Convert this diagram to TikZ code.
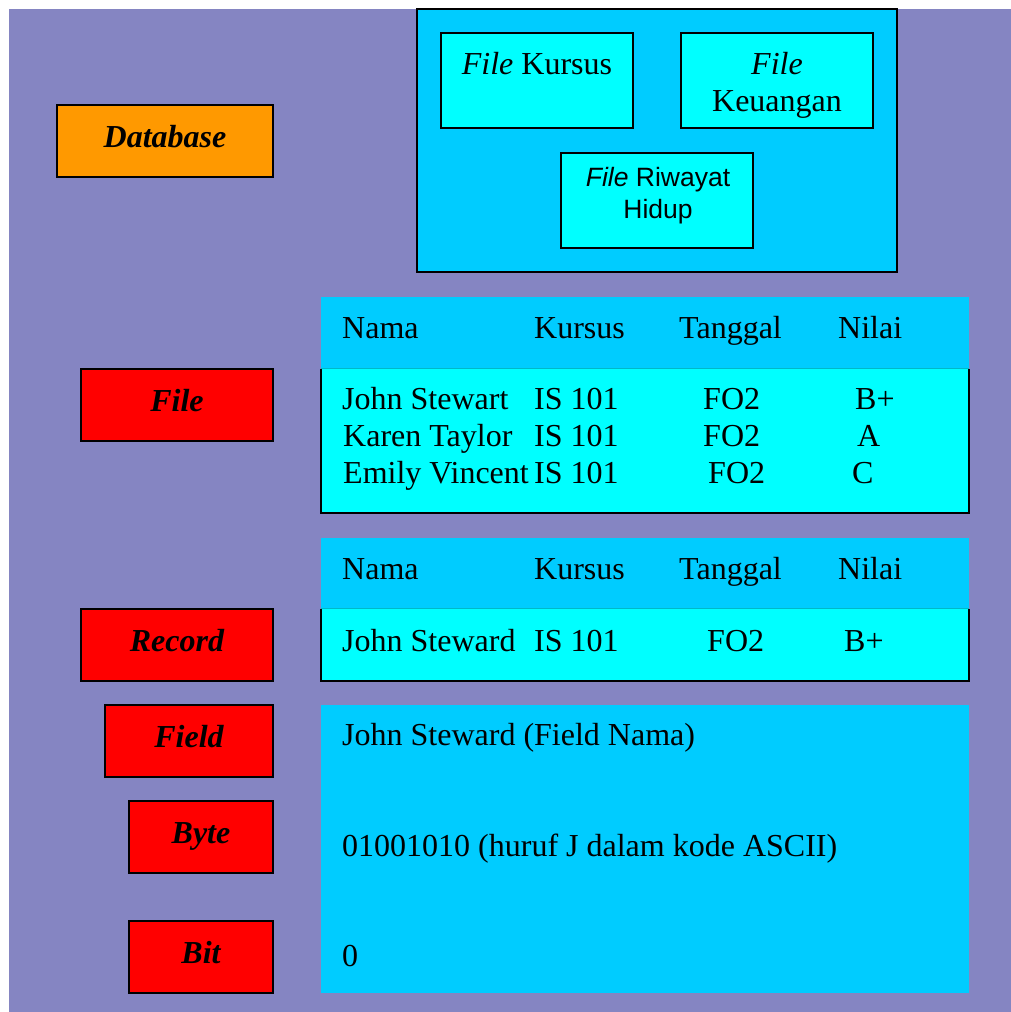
\documentclass[tikz,border=0pt]{standalone}
\usepackage{fontspec}
\setmainfont{Liberation Serif}
\setsansfont{Liberation Sans}
\definecolor{bgpurple}{RGB}{133,133,194}
\definecolor{deepsky}{RGB}{0,204,255}
\definecolor{aqua}{RGB}{0,255,255}
\definecolor{amber}{RGB}{255,153,0}
\definecolor{rulecyan}{RGB}{0,185,200}
\begin{document}
\begin{tikzpicture}[x=1pt,y=-1pt,
  txt/.style={inner sep=0pt, anchor=base west, font=\fontsize{32}{37}\selectfont},
  ctxt/.style={inner sep=0pt, anchor=base, font=\fontsize{32}{37}\selectfont},
  stxt/.style={inner sep=0pt, anchor=base, font=\sffamily\fontsize{26.5}{32}\selectfont},
  lbl/.style={inner sep=0pt, anchor=base, font=\fontsize{32}{37}\selectfont\bfseries\itshape},
  levelbox/.style={draw=black, line width=1.5pt, inner sep=0pt, minimum width=#1},
  redbox/.style={levelbox=#1, fill=red, minimum height=72pt},
  filebox/.style={draw=black, line width=1.5pt, fill=aqua, inner sep=0pt,
    minimum width=192pt, minimum height=95pt},
  head/.style={fill=deepsky, inner sep=0pt, minimum width=648pt}]

% page and backdrop
\path[fill=white] (0,0) rectangle (1011,1012);
\path[fill=bgpurple] (9,9) rectangle (1011,1012);

% database level
\node[levelbox=216pt, fill=amber, minimum height=72pt] (dbbox) at (165,141) {};
\node[lbl] (dblbl) at (165,147) {Database};

\node[draw=black, line width=1.5pt, fill=deepsky, inner sep=0pt,
  minimum width=480pt, minimum height=263pt] (dbframe) at (657,140.5) {};
\node[filebox] (kursus) at (537,80.5) {};
\node[ctxt] (kursustxt) at (537,74) {\textit{File} Kursus};
\node[filebox] (keuangan) at (777,80.5) {};
\node[ctxt] (keuangan1) at (777,74) {\textit{File}};
\node[ctxt] (keuangan2) at (777,111) {Keuangan};
\node[filebox] (riwayat) at (657,200.5) {};
\node[stxt] (riwayat1) at (658,186) {\textit{File} Riwayat};
\node[stxt] (riwayat2) at (658,218) {Hidup};

% file level
\node[redbox=192pt] (filelbl) at (177,405) {};
\node[lbl] (filetxt) at (177,411) {File};
\node[head, minimum height=72pt] (filehead) at (645,333) {};
\node[fill=aqua, inner sep=0pt, minimum width=648pt, minimum height=144pt] (filebody) at (645,441) {};
\draw[black, line width=1.5pt] (filebody.north west) -- (filebody.south west)
  -- (filebody.south east) -- (filebody.north east);
\draw[rulecyan, line width=1pt] (filebody.north west) -- (filebody.north east);

\node[txt] (fh1) at (342,338) {Nama};
\node[txt] (fh2) at (534,338) {Kursus};
\node[txt] (fh3) at (679,338) {Tanggal};
\node[txt] (fh4) at (838,338) {Nilai};

\node[txt] (r1a) at (342,409) {John Stewart};
\node[txt] (r1b) at (534,409) {IS 101};
\node[txt] (r1c) at (703,409) {FO2};
\node[txt] (r1d) at (855,409) {B+};
\node[txt] (r2a) at (343,446) {Karen Taylor};
\node[txt] (r2b) at (534,446) {IS 101};
\node[txt] (r2c) at (703,446) {FO2};
\node[txt] (r2d) at (857,446) {A};
\node[txt] (r3a) at (343,483) {Emily Vincent};
\node[txt] (r3b) at (534,483) {IS 101};
\node[txt] (r3c) at (708,483) {FO2};
\node[txt] (r3d) at (852,483) {C};

% record level
\node[redbox=192pt] (reclbl) at (177,645) {};
\node[lbl] (rectxt) at (177,651) {Record};
\node[head, minimum height=71pt] (rechead) at (645,573.5) {};
\node[fill=aqua, inner sep=0pt, minimum width=648pt, minimum height=72pt] (recbody) at (645,645) {};
\draw[black, line width=1.5pt] (recbody.north west) -- (recbody.south west)
  -- (recbody.south east) -- (recbody.north east);
\draw[rulecyan, line width=1pt] (recbody.north west) -- (recbody.north east);

\node[txt] (rh1) at (342,579) {Nama};
\node[txt] (rh2) at (534,579) {Kursus};
\node[txt] (rh3) at (679,579) {Tanggal};
\node[txt] (rh4) at (838,579) {Nilai};
\node[txt] (rra) at (342,651) {John Steward};
\node[txt] (rrb) at (534,651) {IS 101};
\node[txt] (rrc) at (707,651) {FO2};
\node[txt] (rrd) at (844,651) {B+};

% field, byte and bit levels
\node[redbox=168pt] (fieldlbl) at (189,741) {};
\node[lbl] (fieldtxt) at (189,747) {Field};
\node[redbox=144pt] (bytelbl) at (201,837) {};
\node[lbl] (bytetxt) at (201,843) {Byte};
\node[redbox=144pt] (bitlbl) at (201,957) {};
\node[lbl] (bittxt) at (201,963) {Bit};

\node[head, minimum height=288pt] (fieldpanel) at (645,849) {};
\node[txt] (fieldval) at (342,745) {John Steward (Field Nama)};
\node[txt] (byteval) at (342,856) {01001010 (huruf J dalam kode ASCII)};
\node[txt] (bitval) at (342,966) {0};
\end{tikzpicture}
\end{document}
